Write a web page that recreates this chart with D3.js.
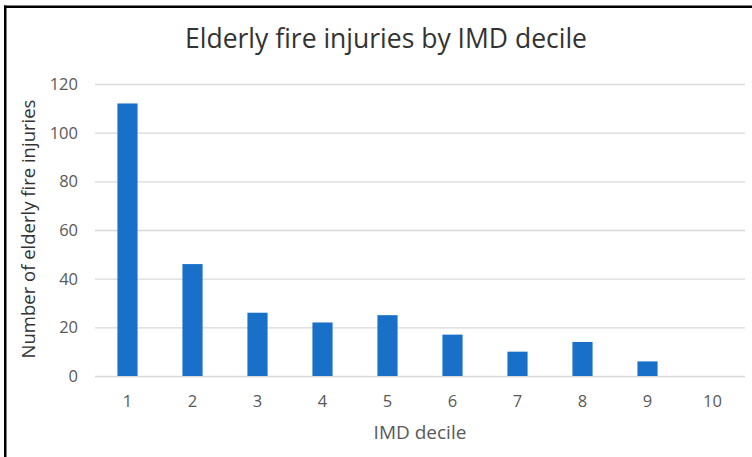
<!DOCTYPE html>
<html>
<head>
<meta charset="utf-8">
<title>Elderly fire injuries by IMD decile</title>
<script src="https://d3js.org/d3.v7.min.js"></script>
<style>
  body { margin: 0; background: #fff; }
  text { font-family: "Open Sans", sans-serif; }
</style>
</head>
<body>
<svg id="chart" width="752" height="457"></svg>
<script>
// data
var deciles = ["1", "2", "3", "4", "5", "6", "7", "8", "9", "10"];
var injuries = [112, 46, 26, 22, 25, 17, 10, 14, 6, 0];
var yTicks = [0, 20, 40, 60, 80, 100, 120];

var svg = d3.select("#chart");

// left and top frame lines
svg.append("rect").attr("x", 4).attr("y", 5.5).attr("width", 748).attr("height", 2.5).attr("fill", "#000");
svg.append("rect").attr("x", 4).attr("y", 5.5).attr("width", 2.5).attr("height", 452).attr("fill", "#000");

var x = d3.scaleBand().domain(deciles).range([95, 745]).paddingInner(0.69).paddingOuter(0.345);
var y = d3.scaleLinear().domain([0, 120]).range([376, 84]);

// gridlines
svg.append("g").selectAll("line")
    .data(yTicks)
    .enter().append("line")
    .attr("x1", 95).attr("x2", 745)
    .attr("y1", d => y(d) + 0.5).attr("y2", d => y(d) + 0.5)
    .attr("stroke", "#d9d9d9")
    .attr("stroke-width", 1.3);

// bars
svg.append("g").selectAll("rect")
    .data(deciles)
    .enter().append("rect")
    .attr("x", d => x(d))
    .attr("width", x.bandwidth())
    .attr("y", (d, i) => y(injuries[i]))
    .attr("height", (d, i) => y(0) - y(injuries[i]))
    .attr("fill", "#1870c8");

// y tick labels
svg.append("g").selectAll("text")
    .data(yTicks)
    .enter().append("text")
    .attr("x", 78)
    .attr("y", d => y(d) + 6)
    .attr("text-anchor", "end")
    .attr("fill", "#595959")
    .style("font-size", "16.5px")
    .text(d => d);

// x tick labels
svg.append("g").selectAll("text")
    .data(deciles)
    .enter().append("text")
    .attr("x", d => x(d) + x.bandwidth() / 2)
    .attr("y", 407)
    .attr("text-anchor", "middle")
    .attr("fill", "#595959")
    .style("font-size", "16.5px")
    .text(d => d);

// title
svg.append("text")
    .attr("x", 386).attr("y", 48)
    .attr("text-anchor", "middle")
    .attr("fill", "#333")
    .style("font-size", "26.5px")
    .text("Elderly fire injuries by IMD decile");

// axis titles
svg.append("text")
    .attr("x", 420).attr("y", 439)
    .attr("text-anchor", "middle")
    .attr("fill", "#595959")
    .style("font-size", "19px")
    .text("IMD decile");

svg.append("text")
    .attr("transform", "translate(35,229) rotate(-90)")
    .attr("text-anchor", "middle")
    .attr("fill", "#333")
    .style("font-size", "18.5px")
    .text("Number of elderly fire injuries");
</script>
</body>
</html>
